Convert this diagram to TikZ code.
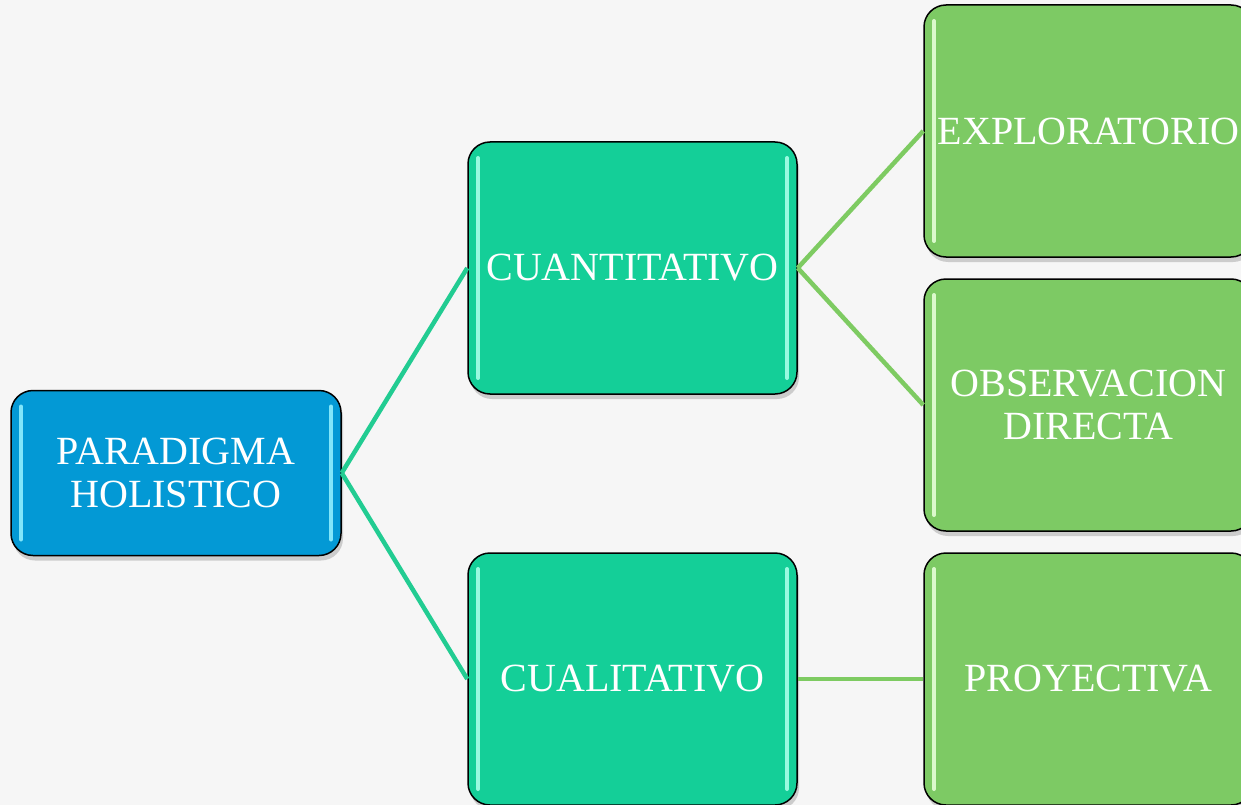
\documentclass[tikz,border=0pt]{standalone}
\usepackage{fontspec}
\setmainfont{Liberation Serif}
\usetikzlibrary{shadows}
\definecolor{bgc}{HTML}{F6F6F6}
\definecolor{blueb}{HTML}{0399D5}
\definecolor{tealb}{HTML}{14CF98}
\definecolor{greenb}{HTML}{7DCA64}
\definecolor{tealline}{HTML}{22CC92}
\definecolor{greenline}{HTML}{7ECB62}
\definecolor{hlblue}{HTML}{8FEFFF}
\definecolor{hlteal}{HTML}{A8FFE8}
\definecolor{hlgreen}{HTML}{E6FFD8}
\tikzset{
  box/.style={draw=black, line width=1.5pt, rounded corners=22pt, text=white,
    align=center, inner sep=0pt, font=\fontsize{40}{43}\selectfont,
    drop shadow={shadow xshift=2pt, shadow yshift=-5pt, opacity=0.35, fill=gray}},
  hl/.style={path picture={
    \draw[#1, line width=4pt, line cap=round, opacity=0.9]
      ([xshift=10pt,yshift=-16pt]path picture bounding box.north west) --
      ([xshift=10pt,yshift=16pt]path picture bounding box.south west);
    \draw[#1, line width=4pt, line cap=round, opacity=0.9]
      ([xshift=-10pt,yshift=-16pt]path picture bounding box.north east) --
      ([xshift=-10pt,yshift=16pt]path picture bounding box.south east);}},
  bigbox/.style={box, minimum width=329pt, minimum height=252pt},
  conn/.style={line width=4.5pt},
}
\begin{document}
\begin{tikzpicture}[x=1pt,y=-1pt]
\clip (0,0) rectangle (1241,805);
\fill[bgc] (0,0) rectangle (1241,805);
\node[box, fill=blueb, hl=hlblue, minimum width=330pt, minimum height=165pt] (para) at (176,473) {PARADIGMA\\HOLISTICO};
\node[bigbox, fill=tealb, hl=hlteal] (cuan) at (632.5,268) {CUANTITATIVO};
\node[bigbox, fill=tealb, hl=hlteal] (cual) at (632.5,679) {CUALITATIVO};
\node[bigbox, fill=greenb, hl=hlgreen] (expl) at (1088.5,131) {EXPLORATORIO};
\node[bigbox, fill=greenb, hl=hlgreen] (obs) at (1088.5,405) {OBSERVACION\\DIRECTA};
\node[bigbox, fill=greenb, hl=hlgreen] (proy) at (1088.5,679) {PROYECTIVA};
\draw[conn, tealline] (para.east) -- (cuan.west);
\draw[conn, tealline] (para.east) -- (cual.west);
\draw[conn, greenline] (cuan.east) -- (expl.west);
\draw[conn, greenline] (cuan.east) -- (obs.west);
\draw[conn, greenline] (cual.east) -- (proy.west);
\end{tikzpicture}
\end{document}
